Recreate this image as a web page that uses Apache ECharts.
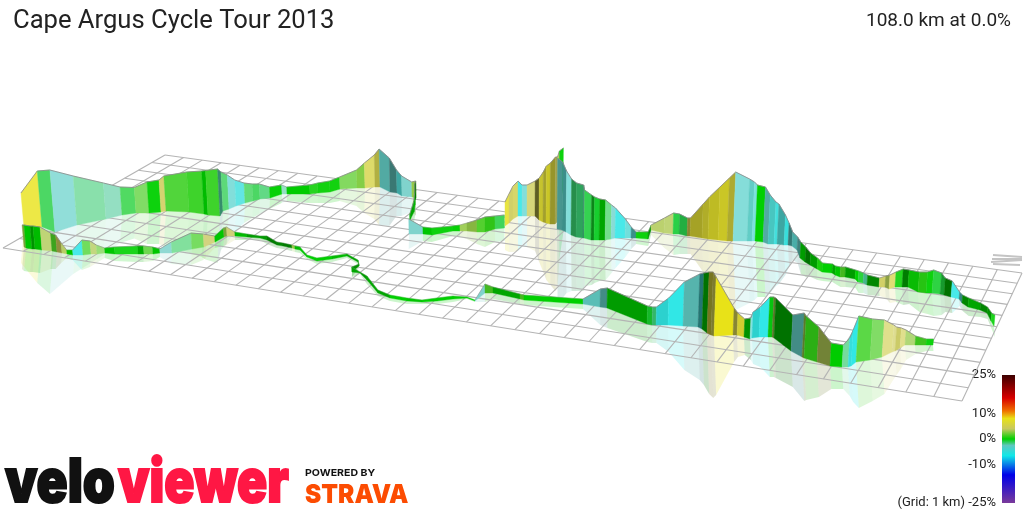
<!DOCTYPE html>
<html><head><meta charset="utf-8">
<style>html,body{margin:0;padding:0;background:#fff}#c{width:1024px;height:512px}</style>
<script src="https://cdn.jsdelivr.net/npm/echarts@6/dist/echarts.min.js"></script>
</head><body><div id="c"></div>
<script>
const chartTitle = 'Cape Argus Cycle Tour 2013';
const chartSummary = '108.0 km at 0.0%';
const legendTicks = [-25, -10, 0, 10, 25];
const gridNote = '(Grid: 1 km) ';

// gradient (%) colour scale
const scaleStops = [-25, -14, -6.5, -2.5, 0, 4, 8, 11, 16, 25];
const scaleColours = [[122,58,154],[0,0,232],[16,232,232],[96,200,192],[0,208,0],[200,200,96],[232,226,24],[240,112,0],[216,0,0],[60,0,0]];

// ground plane in projected scene units
const planeCornersX = [3, 962, 1022, 165];
const planeCornersY = [248, 401, 273, 155];
const planeColumns = 40;
const planeRows = 11;
const scaleMarkFromX = [993, 992, 991, 993];
const scaleMarkFromY = [255, 259, 262, 264];
const scaleMarkToX = [1022, 1022, 1022, 1020];
const scaleMarkToY = [257, 259, 260, 265];

// rear stretch of the route: projected position, wall-top level, gradient %, wall lighting
const rearX = [24,42,55,77,106,122,136,149,161,166,
 189,204,208,220,223,229,236,245,253,260,
 270,282,287,310,318,330,340,357,365,375,
 380,390,397,402,412,416,415,415,414,410,
 410,409,423,432,453,460,467,477,485,495,
 504.5,505,509,513,518,522,527,535,539,543,
 546,550,555,557,559,563,557,562,566,571,
 576,583,584,591,594,599,605,611,615,625,
 631,636,648,651,664,673,679,687,690,702,
 708,718,727,733,747,752,755,763,768,774,
 777,784,788,792,797,800,805,810,817,822,
 832,835,840,845,855,858,863,867,879,885,
 889,895,902,908,918,926,932,940,944,951,
 959,962,968,980,987,991,994];
const rearGround = [228,227,232,225,219,215,213,213,212,211,
 212,214,215,216,211,209,206,203,201,199,
 198,194,194,194,193,192,189,188,188,187,
 187,192,193,196,197,198,200,205,212,220,
 222,234,234,235,231,231,231,232,232,229,
 228,226,223,219,216,216,216,216,220,222,
 223,224,224,222,205,190,229,230,232,235,
 237,238,238,240,240,240,240,239,238,238,
 238,238,239,230,233,234,234,236,236,238,
 239,240,241,241,241,241,241,242,244,244,
 244,245,245,246,250,258,262,265,269,272,
 273,275,277,277,279,282,283,285,287,287,
 289,287,287,287,292,293,293,294,295,297,
 299,303,307,310,313,321,326];
const rearTop = [193,171,170,176,183,187,187.5,182,180,176,
 172,171,170.5,169,172,175,180,183,184,184,
 187,185,187,185,183,181,177,170,163,155,
 149,158,170,176,182,181,184,192,201,214,
 217,219,227,228,226,225,223,220,217,216,
 215,202,194,186,181,185,185,181,178,172,
 166,163,157,157,151,148,158,162,171,179,
 183,185,190,195,197,199,200,205,208,219,
 227,232,232,225,218,213,214,218,218,204,
 197,187,178,172,179,182,185,187,195,202,
 204,215,223,232,237,242,247,253,258,263,
 264,266,267,267,270,271,273,275,278,276,
 275,272,269,270,272,272,270,273,278,281,
 292,295,298,303,307,313,315];
const rearGradient = [8,-0.8,-3,-1.5,-2,-0.6,1.5,0,4.5,1,
 0.8,0,0.8,-2,-1,-3.5,-5,-0.8,-0.8,-1.2,
 0,-2,0,0.3,0.1,0.1,1.8,2.5,5.5,5,
 -2.5,-2.5,-3.5,-2.5,3,0,0,0,0,0,
 null,-2.5,0,0,0,3,3,1.5,1,-0.8,
 null,7.5,4.5,5,-6,-3.5,4.5,5,6.5,6,
 7,6,4,4,0,null,-2.5,-3,-3.5,-1.4,
 -1.5,-2,-0.8,-0.5,-0.6,0,-1,-3,-6,-4,
 -3,0,0,3.5,3.5,-0.8,-1,5,6.5,6.5,
 7,7,6,-3.3,-2.8,-4,0,-2.5,-3.5,-5,
 -3.5,-5,-3,-3,-2.5,0,0,0,0.5,0,
 0,0,1.5,0,0,-0.5,-2,0,4.5,3.5,
 5.5,0.2,0,0.2,0.8,0,-0.6,-0.8,0,-6,
 -3,0,0,0,0,0,null];
const rearLight = [.2,.2,.35,.4,.4,.25,.3,.05,.15,.15,
 .1,-.1,.1,-.3,.25,.3,.25,.3,.2,.25,
 .02,.4,-.02,.1,.05,.05,.25,.05,.2,-.15,
 -.15,-.4,-.2,.2,0,-.5,-.3,-.1,-.2,0,
 0,.2,-.05,.05,.02,.1,-.1,.05,-.05,.15,
 0,.15,.1,.15,.2,.3,.2,-.55,-.1,-.25,
 -.1,-.3,-.2,0,.05,0,-.25,-.3,.3,-.3,
 -.2,-.35,.1,-.35,0,-.2,.35,.3,.2,.25,
 -.3,.05,-.3,.15,.2,.05,-.15,-.35,-.25,-.2,
 -.15,-.1,-.2,.3,.05,.3,0,-.15,-.05,.1,
 -.2,.05,-.4,-.15,-.35,-.25,-.45,-.25,0,0,
 -.2,-.05,-.1,-.25,0,.1,-.1,-.35,.1,-.2,
 .25,.1,-.4,-.1,-.05,.05,.1,-.25,-.45,.2,
 -.35,-.35,-.2,-.35,-.3,.1,0];

// front stretch of the route
const frontX = [24,26,32,35,42,52,57,62,67,73,
 83,91,97,105,115,138,144,153,160,172,
 192,204,215,224,227,235,247,260,267,277,
 283,292,295,300,307,317,332,347,358,359,
 352,360,367,378,390,407,422,437,453,467,
 475,485,493,520,524,583,600,607,647,652,
 656,668,683,698,702,707,711,714,733,737,
 744,750,752,759,768,772,774,791,802,804,
 817,830,842,848,851,856,870,882,892,895,
 900,905,915,926,933];
const frontGround = [247,248,249,249,250,251,252,253,254,255,
 255,254,254,253,254,254,254,254,253,253,
 249,247,242,237,236,236,237,238,240,245,
 246,248,249,250,257,261,259,256,262,266,
 272,273,280,293,298,301,302,301,299,298,
 301,293,293,299,300,304,307,308,324,325,
 325,325,326,327,329,333,335,336,335,335,
 337,339,338,337,337,337,338,351,357,358,
 362,366,367,367,366,362,360,357,352,351,
 348,345,345,345,345];
const frontTop = [225,225,226,226,227,233,235,243,250,250,
 240,241,245,248,247,246,246,247,249,242,
 233,234,236,228,227,232,234,236,236,242,
 243,245,246,247,255,258,256,254,260,264,
 267,272,276,290,295,298,300,298,296,297,
 300,284,287,294,295,299,289,288,306,307,
 307,298,282,274,273,272,272,277,308,313,
 319,318,312,307,297,297,298,315,313,316,
 327,343,345,338,330,316,319,320,325,327,
 328,330,336,339,339];
const frontGradient = [3,0,0,0,3.5,1.5,4.5,3.5,0,-6,
 1,3.5,2,0,0,0,1.5,0,-2.5,-1.2,
 1.2,4,0,3,4,0,0,0,0,0,
 0,3,0,0,0,0,0,0,0,0,
 0,0,0,0,0,0,0,0,0,0,
 -2.5,1.5,0,1.5,0,-2.5,-2.5,0,-0.6,-1.5,
 -5,-6,-2.5,-4,0,6,5,8,5,6.5,
 0,-4,-5,-6,-0.2,3,0,-2.5,3,1,
 3.5,0,-1.5,-5,-6,1,1.5,5,4.5,4,
 5,3,1.3,0,null];
const frontLight = [-.2,-.05,-.3,-.1,.2,-.2,-.3,.1,-.05,.2,
 .3,.25,.35,-.05,.1,-.15,.2,-.05,.3,.4,
 .3,.2,-.05,-.2,.15,-.1,-.25,-.25,-.4,-.35,
 -.4,0,-.1,-.05,0,0,-.1,-.2,-.3,-.3,
 -.2,-.25,-.2,-.2,0,-.05,0,0,0,0,
 .2,-.1,-.2,-.1,0,-.05,-.3,-.25,-.1,-.1,
 -.05,.1,-.1,-.45,-.45,-.45,-.4,0,-.35,-.05,
 -.3,.35,-.05,.1,-.05,-.4,-.45,-.3,-.4,-.15,
 -.35,-.02,.3,.05,.1,.2,.3,.35,.35,.05,
 .35,.25,-.05,.05,0];

const LEAN = 0.00018;
function scaleRgb(g) {
  const s = scaleStops, c = scaleColours;
  if (g <= s[0]) return c[0].slice();
  for (let i = 1; i < s.length; i++) {
    if (g <= s[i]) {
      const t = (g - s[i-1]) / (s[i] - s[i-1]);
      return c[i-1].map((v, k) => v + (c[i][k] - v) * t);
    }
  }
  return c[c.length-1].slice();
}
function css(rgb) { return 'rgb(' + rgb.map(Math.round).join(',') + ')'; }
function wallColour(g, l) {
  const rgb = scaleRgb(g);
  const out = l >= 0 ? rgb.map(v => v + (255 - v) * l) : rgb.map(v => v * (1 + l));
  return css(out);
}
function segments(x, ground, top, grad, light) {
  const rows = [];
  for (let i = 0; i < x.length - 1; i++) {
    if (grad[i] === null) continue;
    rows.push([x[i], ground[i], top[i], x[i+1], ground[i+1], top[i+1], grad[i], light[i]]);
  }
  return rows;
}
function wallRender(reflect) {
  return function (params, api) {
    const shift = (gx, g, t) => (512 - gx) * (g - t) * LEAN;
    const x0 = api.value(0), g0 = api.value(1), t0 = api.value(2);
    const x1 = api.value(3), g1 = api.value(4), t1 = api.value(5);
    const s0 = shift(x0, g0, t0), s1 = shift(x1, g1, t1);
    const a = api.coord([x0, g0]), b = api.coord([x1, g1]);
    const c = api.coord([x1 - s1, reflect ? 2 * g1 - t1 : t1]);
    const d = api.coord([x0 - s0, reflect ? 2 * g0 - t0 : t0]);
    const fill = wallColour(api.value(6), api.value(7));
    if (reflect) {
      return { type: 'polygon', shape: { points: [a, b, c, d] }, style: { fill: fill, opacity: 0.2 }, silent: true };
    }
    const edge = Math.min(0.85, Math.max(g0 - t0, g1 - t1) / 16);
    return { type: 'group', children: [
      { type: 'polygon', shape: { points: [a, b, c, d] }, style: { fill: fill, stroke: fill, lineWidth: 0.4 } },
      { type: 'polyline', shape: { points: [d, c] }, style: { fill: 'none', stroke: 'rgba(140,140,140,' + edge + ')', lineWidth: 1 } }
    ]};
  };
}
function planeMap() {
  const X = planeCornersX, Y = planeCornersY;
  const dx1 = X[1]-X[2], dx2 = X[3]-X[2], sx = X[0]-X[1]+X[2]-X[3];
  const dy1 = Y[1]-Y[2], dy2 = Y[3]-Y[2], sy = Y[0]-Y[1]+Y[2]-Y[3];
  const den = dx1*dy2 - dx2*dy1;
  const g = (sx*dy2 - dx2*sy)/den, h = (dx1*sy - sx*dy1)/den;
  const a = X[1]-X[0]+g*X[1], b = X[3]-X[0]+h*X[3], c = X[0];
  const d = Y[1]-Y[0]+g*Y[1], e = Y[3]-Y[0]+h*Y[3], f = Y[0];
  return (u, v) => { const w = g*u + h*v + 1; return [(a*u + b*v + c)/w, (d*u + e*v + f)/w]; };
}
const map = planeMap();
const planeLines = [];
for (let i = 0; i <= planeColumns; i++) { const u = i/planeColumns; planeLines.push([...map(u,0), ...map(u,1)]); }
for (let j = 0; j <= planeRows; j++) { const v = j/planeRows; planeLines.push([...map(0,v), ...map(1,v)]); }
const scaleMarkLines = scaleMarkFromX.map((x,i) => [x, scaleMarkFromY[i], scaleMarkToX[i], scaleMarkToY[i]]);
function lineRender(colour, width) {
  return function (params, api) {
    const p = api.coord([api.value(0), api.value(1)]), q = api.coord([api.value(2), api.value(3)]);
    return { type: 'line', shape: { x1: p[0], y1: p[1], x2: q[0], y2: q[1] }, style: { stroke: colour, lineWidth: width, fill: 'none' } };
  };
}
const rearRows = segments(rearX, rearGround, rearTop, rearGradient, rearLight);
const frontRows = segments(frontX, frontGround, frontTop, frontGradient, frontLight);

const barStops = [];
for (const [i, s] of scaleStops.entries()) barStops.push({ offset: 1 - (s + 25) / 50, color: css(scaleColours[i]) });
barStops.reverse();

function custom(name, data, render, z) {
  return { type: 'custom', name, data, renderItem: render, xAxisIndex: 0, yAxisIndex: 0, z, silent: true, animation: false,
    coordinateSystem: 'cartesian2d', encode: { x: 0, y: 1 } };
}
const chart = echarts.init(document.getElementById('c'), null, { renderer: 'canvas' });
const FONT = 'Roboto, sans-serif';
chart.setOption({
  animation: false,
  backgroundColor: '#fff',
  title: [
    { text: chartTitle, left: 13, top: 9, padding: 0, textStyle: { fontFamily: FONT, fontSize: 25.6, fontWeight: 400, color: '#222' } },
    { text: chartSummary, right: 13, top: 12, padding: 0, textStyle: { fontFamily: FONT, fontSize: 19, fontWeight: 400, color: '#222' } }
  ],
  grid: [
    { left: 0, top: 0, width: 1024, height: 512, containLabel: false },
    { left: 1002, top: 375, width: 13, height: 128, containLabel: false }
  ],
  xAxis: [
    { type: 'value', min: 0, max: 1024, show: false, gridIndex: 0 },
    { type: 'value', min: 0, max: 1, show: false, gridIndex: 1 }
  ],
  yAxis: [
    { type: 'value', min: 0, max: 512, inverse: true, show: false, gridIndex: 0 },
    { type: 'value', min: -25, max: 25, interval: 5, gridIndex: 1, position: 'left',
      axisLine: { show: false }, axisTick: { show: false }, splitLine: { show: false },
      axisLabel: { customValues: legendTicks, margin: 6, fontFamily: FONT, fontSize: 13, color: '#222',
        formatter: v => (v === -25 ? gridNote : '') + v + '%' } }
  ],
  series: [
    custom('rear reflection', rearRows, wallRender(true), 1),
    custom('front reflection', frontRows, wallRender(true), 1),
    custom('ground grid', planeLines, lineRender('#b4b4b4', 1.1), 2),
    custom('scale mark', scaleMarkLines, lineRender('#c4c4c4', 2), 2),
    custom('rear wall', rearRows, wallRender(false), 3),
    custom('front wall', frontRows, wallRender(false), 4),
    { type: 'custom', name: 'gradient scale', xAxisIndex: 1, yAxisIndex: 1, coordinateSystem: 'cartesian2d', silent: true, z: 2,
      data: [[0, -25, 1, 25]], encode: { x: 0, y: 1 },
      renderItem(params, api) {
        const p = api.coord([api.value(0), api.value(3)]), q = api.coord([api.value(2), api.value(1)]);
        return { type: 'rect', shape: { x: p[0], y: p[1], width: q[0]-p[0], height: q[1]-p[1] },
          style: { fill: new echarts.graphic.LinearGradient(0, 0, 0, 1, barStops) } };
      } }
  ],
  graphic: [
    { type: 'text', x: 5, y: 454, scaleX: 0.855, z: 9, style: { text: 'velo', font: '900 60px Inter, sans-serif', fill: '#111', stroke: '#111', lineWidth: 2 } },
    { type: 'text', x: 118, y: 454, scaleX: 0.83, z: 9, style: { text: 'viewer', font: '900 60px Inter, sans-serif', fill: '#ff1744', stroke: '#ff1744', lineWidth: 2 } },
    { type: 'text', x: 305, y: 468, scaleX: 1.11, z: 9, style: { text: 'POWERED BY', font: '700 9.5px Inter, sans-serif', fill: '#111' } },
    { type: 'text', x: 305, y: 482, scaleX: 0.94, z: 9, style: { text: 'STRAVA', font: '900 26px Inter, sans-serif', fill: '#fc4c02' } }
  ]
});
</script></body></html>
